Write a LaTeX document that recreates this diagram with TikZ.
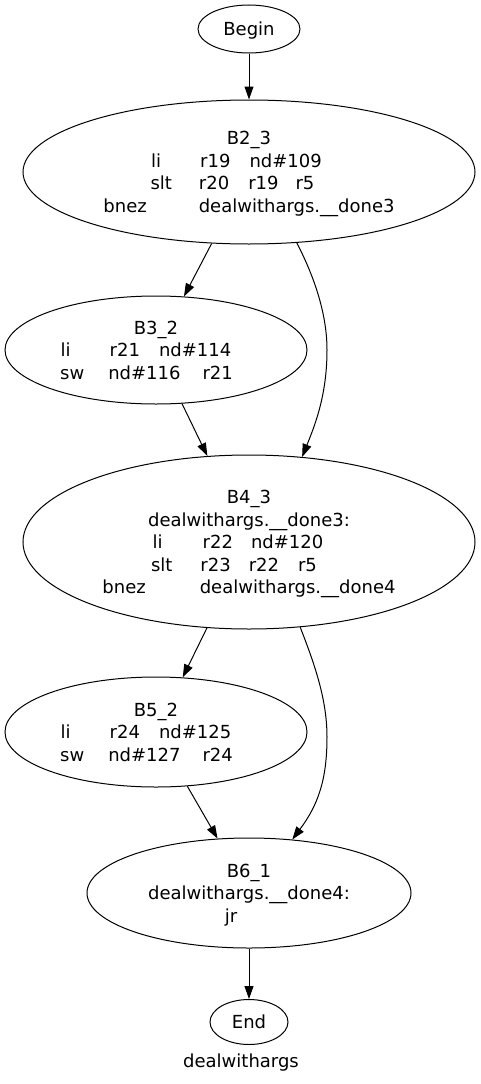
\documentclass[tikz,border=0pt]{standalone}
\usepackage{fontspec}
\setmainfont{DejaVu Sans}
\usetikzlibrary{shapes.geometric,arrows.meta}
\newcommand{\gp}[1]{\hbox to #1pt{}}
\begin{document}
\begin{tikzpicture}[x=1pt,y=-1pt,
  blk/.style={ellipse,draw=black,line width=1pt,inner sep=0pt,align=center,text depth=0pt,
    font=\fontsize{18}{22.5}\selectfont},
  edge/.style={draw=black,line width=1pt,-{Triangle[length=13pt,width=9pt]}}]
\fill[white] (0,0) rectangle (480,1084);
\useasboundingbox (0,0) rectangle (480,1084);
\node[blk,minimum width=102pt,minimum height=48pt] (Begin) at (249,29) {Begin};
\node[blk,minimum width=452pt,minimum height=144pt] (B2) at (249,172)
  {B2\_3\\ li\gp{39}r19\gp{19}nd\#109\gp{25}\\ slt\gp{27}r20\gp{19}r19\gp{17}r5\gp{33}\\ bnez\gp{52}dealwithargs.\_\_done3};
\node[blk,minimum width=302pt,minimum height=108pt] (B3) at (156,350)
  {B3\_2\\ li\gp{39}r21\gp{19}nd\#114\gp{20}\\ sw\gp{24}nd\#116\gp{22}r21\gp{19}};
\node[blk,minimum width=452pt,minimum height=174pt] (B4) at (249,542)
  {B4\_3\\ dealwithargs.\_\_done3:\\ li\gp{40}r22\gp{18}nd\#120\gp{22}\\ slt\gp{28}r23\gp{18}r22\gp{19}r5\gp{30}\\ bnez\gp{54}dealwithargs.\_\_done4};
\node[blk,minimum width=302pt,minimum height=110pt] (B5) at (156,732)
  {B5\_2\\ li\gp{39}r24\gp{19}nd\#125\gp{20}\\ sw\gp{24}nd\#127\gp{22}r24\gp{19}};
\node[blk,minimum width=324pt,minimum height=110pt] (B6) at (249,893)
  {B6\_1\\ dealwithargs.\_\_done4:\\ jr\gp{36}};
\node[blk,minimum width=78pt,minimum height=45pt] (End) at (249,1022) {End};
\node[font=\fontsize{18}{22.5}\selectfont,inner sep=0pt] (lbl) at (241,1063) {dealwithargs};
\draw[edge] (Begin) -- (B2);
\draw[edge] (B2) -- (B3);
\draw[edge] (B2.-56.3) .. controls (315,278) and (327,315) .. (327,350) .. controls (327,395) and (315,425) .. (B4.58.8);
\draw[edge] (B3) -- (B4);
\draw[edge] (B4) -- (B5);
\draw[edge] (B4.-59) .. controls (315,665) and (327,700) .. (327,737) .. controls (327,780) and (318,805) .. (B6.51.3);
\draw[edge] (B5) -- (B6);
\draw[edge] (B6) -- (End);
\end{tikzpicture}
\end{document}
